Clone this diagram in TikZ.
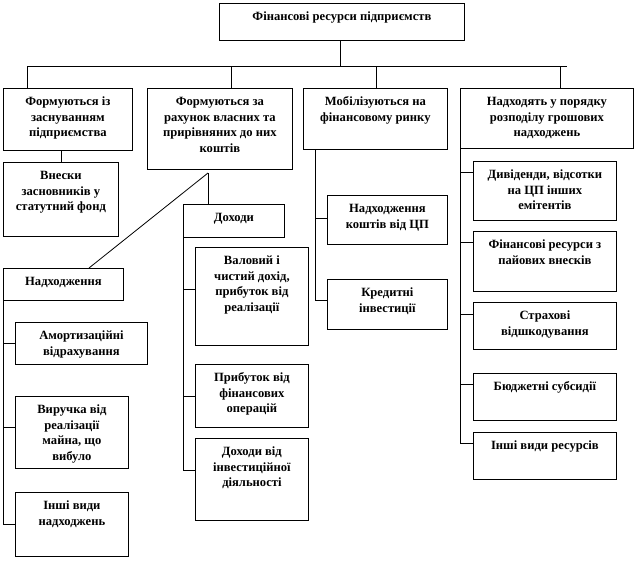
\documentclass[tikz,border=0pt]{standalone}
\usepackage{fontspec}
\setmainfont{Liberation Serif}
\newcommand{\btext}[3]{\parbox[c][#2pt][t]{#1pt}{\centering\rule{0pt}{17.5pt}#3}}
\tikzset{
  box/.style={draw,line width=0.8pt,inner sep=0pt,anchor=north west,font=\bfseries\fontsize{12.6}{15.5}\selectfont},
  link/.style={line width=0.8pt}
}
\begin{document}
\begin{tikzpicture}[x=1pt,y=-1pt]
  \useasboundingbox (0,0) rectangle (635,560);
  % top level
  \node[box] (res) at (219,3) {\btext{245}{37}{Фінансові ресурси підприємств}};
  \node[box] (zas) at (3,88) {\btext{129}{62}{Формуються із\\заснуванням\\підприємства}};
  \node[box] (vla) at (147,88) {\btext{145}{81}{Формуються за\\рахунок власних та\\прирівняних до них\\коштів}};
  \node[box] (mob) at (303,88) {\btext{144}{61}{Мобілізуються на\\фінансовому ринку}};
  \node[box] (roz) at (460,88) {\btext{173}{60}{Надходять у порядку\\розподілу грошових\\надходжень}};
  % first branch
  \node[box] (vns) at (3,162) {\btext{115}{74}{Внески\\засновників у\\статутний фонд}};
  % second branch
  \node[box] (doh) at (183,204) {\btext{101}{33}{Доходи}};
  \node[box] (nad) at (3,268) {\btext{120}{32}{Надходження}};
  \node[box] (amo) at (15,322) {\btext{132}{42}{Амортизаційні\\відрахування}};
  \node[box] (vyr) at (15,396) {\btext{113}{72}{Виручка від\\реалізації\\майна, що\\вибуло}};
  \node[box] (inn) at (15,492) {\btext{113}{64}{Інші види\\надходжень}};
  \node[box] (val) at (195,247) {\btext{113}{98}{Валовий і\\чистий дохід,\\прибуток від\\реалізації}};
  \node[box] (prf) at (195,364) {\btext{113}{63}{Прибуток від\\фінансових\\операцій}};
  \node[box] (inv) at (195,438) {\btext{113}{82}{Доходи від\\інвестиційної\\діяльності}};
  % third branch
  \node[box] (ncp) at (327,195) {\btext{120}{49}{Надходження\\коштів від ЦП}};
  \node[box] (kre) at (327,279) {\btext{120}{50}{Кредитні\\інвестиції}};
  % fourth branch
  \node[box] (dyv) at (473,161) {\btext{143}{59}{Дивіденди, відсотки\\на ЦП інших\\емітентів}};
  \node[box] (pai) at (473,231) {\btext{143}{60}{Фінансові ресурси з\\пайових внесків}};
  \node[box] (str) at (473,302) {\btext{143}{47}{Страхові\\відшкодування}};
  \node[box] (bud) at (473,373) {\btext{143}{47}{Бюджетні субсидії}};
  \node[box] (inr) at (473,432) {\btext{143}{47}{Інші види ресурсів}};
  % bus
  \coordinate (busL) at (27,66);
  \coordinate (busR) at (567,66);
  \coordinate (d2) at (231,66);
  \coordinate (d3) at (376,66);
  \coordinate (d4) at (560,66);
  \coordinate (spl) at (208,173);
  \coordinate (dg) at (89,268);
  \draw[link] ([xshift=-2pt]res.south) -- ([xshift=-2pt]res.south |- busL);
  \draw[link] (busL) -- (busR);
  \draw[link] (busL) -- (busL |- zas.north);
  \draw[link] (d2) -- (d2 |- vla.north);
  \draw[link] (d3) -- (d3 |- mob.north);
  \draw[link] (d4) -- (d4 |- roz.north);
  \draw[link] (zas.south -| vns.north) -- (vns.north);
  \draw[link] (spl) -- (spl |- doh.north);
  \draw[link] (spl) -- (dg);
  \draw[link] (doh.south west) |- ([yshift=7pt]val.west);
  \draw[link] (doh.south west) |- (prf.west);
  \draw[link] (doh.south west) |- ([yshift=9pt]inv.west);
  \draw[link] (nad.south west) |- (amo.west);
  \draw[link] (nad.south west) |- ([yshift=5pt]vyr.west);
  \draw[link] (nad.south west) |- (inn.west);
  \draw[link] ([xshift=12pt]mob.south west) |- ([yshift=2pt]ncp.west);
  \draw[link] ([xshift=12pt]mob.south west) |- ([yshift=4pt]kre.west);
  \draw[link] (roz.south west) |- ([yshift=-11pt]dyv.north west);
  \draw[link] (roz.south west) |- ([yshift=-11pt]pai.north west);
  \draw[link] (roz.south west) |- ([yshift=-12pt]str.north west);
  \draw[link] (roz.south west) |- ([yshift=-11pt]bud.north west);
  \draw[link] (roz.south west) |- ([yshift=-11pt]inr.north west);
\end{tikzpicture}
\end{document}
